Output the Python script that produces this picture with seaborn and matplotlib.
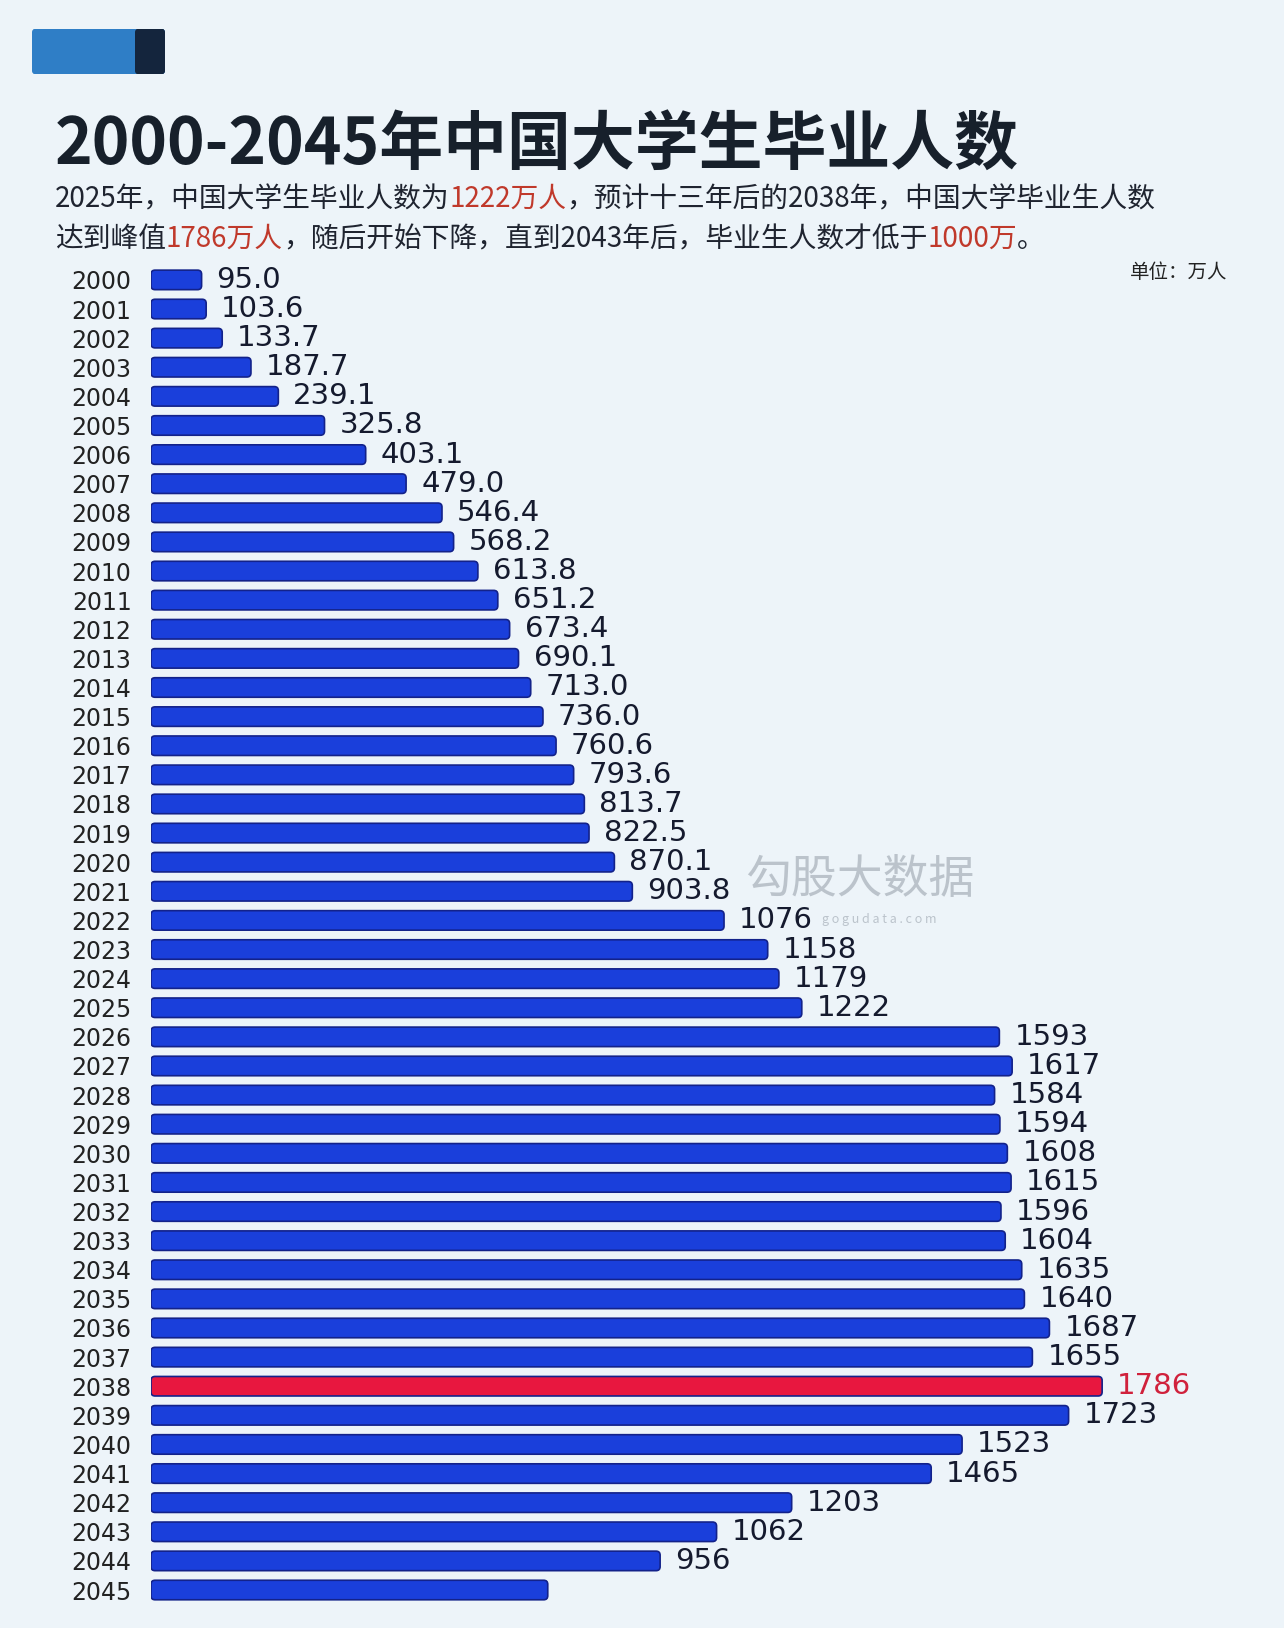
import matplotlib
matplotlib.use("Agg")
import matplotlib.pyplot as plt
from matplotlib.patches import FancyBboxPatch
from matplotlib.text import Annotation
import seaborn as sns

# Data (万人)
years = [str(y) for y in range(2000, 2046)]
grads = [95.0, 103.6, 133.7, 187.7, 239.1, 325.8, 403.1, 479.0, 546.4, 568.2,
         613.8, 651.2, 673.4, 690.1, 713.0, 736.0, 760.6, 793.6, 813.7, 822.5,
         870.1, 903.8, 1076, 1158, 1179, 1222, 1593, 1617, 1584, 1594,
         1608, 1615, 1596, 1604, 1635, 1640, 1687, 1655, 1786, 1723,
         1523, 1465, 1203, 1062, 956, 745]
# last value is hidden under a watermark in the source
hidden_label = ["2045"]
peak_year = "2038"
first_whole_year = 2022   # labels from here on are shown without decimals

title = "2000-2045年中国大学生毕业人数"
sub1 = [("2025年，中国大学生毕业人数为", False), ("1222万人", True),
        ("，预计十三年后的2038年，中国大学毕业生人数", False)]
sub2 = [("达到峰值", False), ("1786万人", True), ("，随后开始下降，直到2043年后，毕业生人数才低于", False),
        ("1000万", True), ("。", False)]

BLUE = "#1a3fdb"
RED = "#e8173f"
EDGE = "#13228a"
BG = "#edf4f9"
CJK = ["Noto Sans CJK SC", "DejaVu Sans"]

sns.set_style("white")
plt.rcParams["font.family"] = CJK

fig = plt.figure(figsize=(12.84, 16.28), dpi=100, facecolor=BG)
ax = fig.add_axes([0.1176, 0.0126, 0.871, 0.8262])
ax.set_facecolor("none")

bar_colors = [RED if y == peak_year else BLUE for y in years]
sns.barplot(x=grads, y=years, hue=years, palette=bar_colors, legend=False,
            orient="h", width=0.67, saturation=1, ax=ax)

ax.set_xlim(0, 2100)
ax.set_ylim(45.6, -0.6)
sns.despine(ax=ax, left=True, bottom=True)
ax.set_xticks([])
ax.set_xlabel("")
ax.set_ylabel("")
ax.tick_params(axis="y", length=0, pad=14, labelsize=17, labelcolor="#222222")
for lab in ax.get_yticklabels():
    lab.set_fontfamily("DejaVu Sans")

# rounded bars with a dark outline
px_per_x = 0.871 * 1284 / 2100
px_per_y = 0.8262 * 1628 / 46.2
r = 4 / px_per_x
for p in list(ax.patches):
    x, y, w, h = p.get_x(), p.get_y(), p.get_width(), p.get_height()
    fc = p.get_facecolor()
    p.remove()
    ax.add_patch(FancyBboxPatch((x, y), w, h,
                                boxstyle=f"round,pad=0,rounding_size={r}",
                                mutation_aspect=(4 / px_per_y) / r,
                                facecolor=fc, edgecolor=EDGE, linewidth=1.2))

# value labels
for i, (yr, v) in enumerate(zip(years, grads)):
    if yr in hidden_label:
        continue
    txt = f"{v:.0f}" if int(yr) >= first_whole_year else f"{v:.1f}"
    ax.annotate(txt, xy=(v, i), xytext=(15, 0), textcoords="offset pixels",
                ha="left", va="center", fontsize=21, family="DejaVu Sans",
                color="#d0213c" if yr == peak_year else "#151a2e")

# decorative block at top-left
fig.patches.append(FancyBboxPatch((32 / 1284, 1 - 74 / 1628), 133 / 1284, 45 / 1628,
                                  boxstyle="round,pad=0,rounding_size=0.002",
                                  transform=fig.transFigure, facecolor="#2f7ec6",
                                  edgecolor="none"))
fig.patches.append(FancyBboxPatch((135 / 1284, 1 - 74 / 1628), 30 / 1284, 45 / 1628,
                                  boxstyle="round,pad=0,rounding_size=0.002",
                                  transform=fig.transFigure, facecolor="#14253d",
                                  edgecolor="none"))

fig.text(55 / 1284, 1 - 145 / 1628, title, fontsize=46, fontweight="bold",
         color="#17202b", ha="left", va="center", family=CJK)


def chain(pieces, x, y):
    # one line of text, each piece placed right after the previous one
    prev = None
    for s, hl in pieces:
        col = "#c0392b" if hl else "#1f2430"
        if prev is None:
            prev = fig.text(x, y, s, fontsize=20, color=col, ha="left", va="center", family=CJK)
        else:
            prev = fig.add_artist(Annotation(s, xy=(1, 0), xycoords=prev, ha="left",
                                             va="bottom", fontsize=20, color=col, family=CJK))


chain(sub1, 55 / 1284, 1 - 199 / 1628)
chain(sub2, 55 / 1284, 1 - 239 / 1628)

fig.text(1227 / 1284, 1 - 273 / 1628, "单位：万人", fontsize=14, color="#222222",
         ha="right", va="center", family=CJK)

# watermark
fig.text(860 / 1284, 1 - 880 / 1628, "勾股大数据", fontsize=33, color="#9aa3ad",
         alpha=0.6, ha="center", va="center", family=CJK)
fig.text(822 / 1284, 1 - 919 / 1628, "g o g u d a t a . c o m", fontsize=9,
         color="#9aa3ad", alpha=0.6, ha="left", va="center")

fig.savefig("out.png", dpi=100, facecolor=BG)
